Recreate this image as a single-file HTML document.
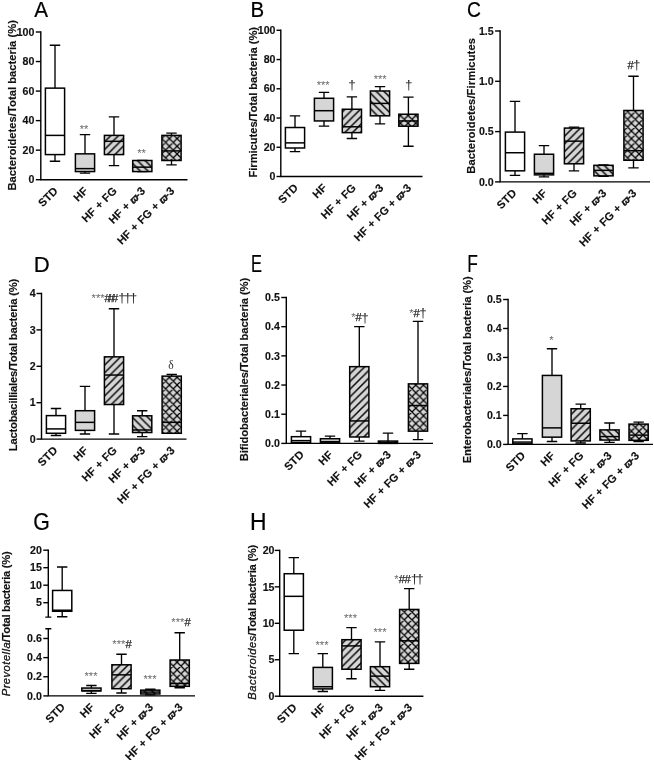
<!DOCTYPE html>
<html lang="en"><head><meta charset="utf-8"><title>Figure</title>
<style>html,body{margin:0;padding:0;background:#fff}svg{display:block}text{font-family:"Liberation Sans","DejaVu Sans",sans-serif}</style></head><body>
<svg width="654" height="760" viewBox="0 0 654 760">
<defs><pattern id="hA" patternUnits="userSpaceOnUse" width="7.7" height="7.7"><path d="M-1 1L1 -1M-1 8.7L8.7 -1M6.7 8.7L8.7 6.7" stroke="#000" stroke-width="1.45"/></pattern><pattern id="hB" patternUnits="userSpaceOnUse" width="7.7" height="7.7"><path d="M-1 -1L8.7 8.7M-1 6.7L1 8.7M6.7 -1L8.7 1" stroke="#000" stroke-width="1.45"/></pattern><pattern id="hX" patternUnits="userSpaceOnUse" width="7.7" height="7.7"><path d="M-1 -1L8.7 8.7M-1 6.7L1 8.7M6.7 -1L8.7 1M-1 1L1 -1M-1 8.7L8.7 -1M6.7 8.7L8.7 6.7" stroke="#000" stroke-width="1.25"/></pattern><filter id="soft" x="0" y="0" width="100%" height="100%" filterUnits="userSpaceOnUse" color-interpolation-filters="sRGB"><feGaussianBlur stdDeviation="0.3"/></filter></defs>
<g filter="url(#soft)">
<rect width="654" height="760" fill="#fff"/>
<text transform="translate(34.21 17.2) scale(0.931 1)" font-size="22.2" fill="#000" stroke="#000" stroke-width="0.2">A</text>
<path d="M40.8 31.3V179.7H187.5" stroke="#000" stroke-width="1.4" fill="none"/>
<path d="M35.8 179.7H40.8" stroke="#000" stroke-width="1.4"/>
<text transform="translate(34.4 183.4) scale(0.95 1)" font-size="11.2" text-anchor="end" font-weight="bold" fill="#111" stroke="#111" stroke-width="0.15">0</text>
<path d="M35.8 150.16H40.8" stroke="#000" stroke-width="1.4"/>
<text transform="translate(34.4 153.86) scale(0.95 1)" font-size="11.2" text-anchor="end" font-weight="bold" fill="#111" stroke="#111" stroke-width="0.15">20</text>
<path d="M35.8 120.62H40.8" stroke="#000" stroke-width="1.4"/>
<text transform="translate(34.4 124.32) scale(0.95 1)" font-size="11.2" text-anchor="end" font-weight="bold" fill="#111" stroke="#111" stroke-width="0.15">40</text>
<path d="M35.8 91.08H40.8" stroke="#000" stroke-width="1.4"/>
<text transform="translate(34.4 94.78) scale(0.95 1)" font-size="11.2" text-anchor="end" font-weight="bold" fill="#111" stroke="#111" stroke-width="0.15">60</text>
<path d="M35.8 61.54H40.8" stroke="#000" stroke-width="1.4"/>
<text transform="translate(34.4 65.24) scale(0.95 1)" font-size="11.2" text-anchor="end" font-weight="bold" fill="#111" stroke="#111" stroke-width="0.15">80</text>
<path d="M35.8 32H40.8" stroke="#000" stroke-width="1.4"/>
<text transform="translate(34.4 35.7) scale(0.95 1)" font-size="11.2" text-anchor="end" font-weight="bold" fill="#111" stroke="#111" stroke-width="0.15">100</text>
<path d="M55 45.29V88.13M55 154.59V161.24M49.8 45.29H60.2M49.8 161.24H60.2" stroke="#000" stroke-width="1.35" fill="none"/>
<rect x="45.4" y="88.13" width="19.2" height="66.46" fill="#ffffff" stroke="#000" stroke-width="1.5"/>
<path d="M45.4 135.39H64.6" stroke="#000" stroke-width="1.5"/>
<path d="M85 134.65V153.85M85 171.58V173.05M79.8 134.65H90.2M79.8 173.05H90.2" stroke="#000" stroke-width="1.35" fill="none"/>
<rect x="75.4" y="153.85" width="19.2" height="17.72" fill="#d6d6d6" stroke="#000" stroke-width="1.5"/>
<path d="M75.4 168.62H94.6" stroke="#000" stroke-width="1.5"/>
<path d="M114 116.93V135.39M114 154.59V165.67M108.8 116.93H119.2M108.8 165.67H119.2" stroke="#000" stroke-width="1.35" fill="none"/>
<rect x="104.4" y="135.39" width="19.2" height="19.2" fill="#d6d6d6"/>
<rect x="104.4" y="135.39" width="19.2" height="19.2" fill="url(#hA)" stroke="#000" stroke-width="1.5"/>
<path d="M104.4 141.3H123.6" stroke="#000" stroke-width="1.5"/>
<path d="M142.3 160.5V160.5M142.3 171.58V171.58M137.1 160.5H147.5M137.1 171.58H147.5" stroke="#000" stroke-width="1.35" fill="none"/>
<rect x="132.7" y="160.5" width="19.2" height="11.08" fill="#d6d6d6"/>
<rect x="132.7" y="160.5" width="19.2" height="11.08" fill="url(#hB)" stroke="#000" stroke-width="1.5"/>
<path d="M132.7 167.15H151.9" stroke="#000" stroke-width="1.5"/>
<path d="M171.5 133.17V135.39M171.5 160.5V164.93M166.3 133.17H176.7M166.3 164.93H176.7" stroke="#000" stroke-width="1.35" fill="none"/>
<rect x="161.9" y="135.39" width="19.2" height="25.11" fill="#d6d6d6"/>
<rect x="161.9" y="135.39" width="19.2" height="25.11" fill="url(#hX)" stroke="#000" stroke-width="1.5"/>
<path d="M161.9 150.9H181.1" stroke="#000" stroke-width="1.5"/>
<text x="58.6" y="191.7" font-size="11.2" text-anchor="end" font-weight="bold" fill="#111" transform="rotate(-45 58.6 191.7)" word-spacing="0.5" stroke="#111" stroke-width="0.12">STD</text>
<text x="88.6" y="191.7" font-size="11.2" text-anchor="end" font-weight="bold" fill="#111" transform="rotate(-45 88.6 191.7)" word-spacing="0.5" stroke="#111" stroke-width="0.12">HF</text>
<text x="117.6" y="191.7" font-size="11.2" text-anchor="end" font-weight="bold" fill="#111" transform="rotate(-45 117.6 191.7)" word-spacing="0.5" stroke="#111" stroke-width="0.12">HF + FG</text>
<text x="145.9" y="191.7" font-size="11.2" text-anchor="end" font-weight="bold" fill="#111" transform="rotate(-45 145.9 191.7)" word-spacing="0.5" stroke="#111" stroke-width="0.12">HF + <tspan font-style="italic" font-size="10" stroke-width="0.4">ϖ</tspan><tspan dx="-0.7">-3</tspan></text>
<text x="175.1" y="191.7" font-size="11.2" text-anchor="end" font-weight="bold" fill="#111" transform="rotate(-45 175.1 191.7)" word-spacing="0.5" stroke="#111" stroke-width="0.12">HF + FG + <tspan font-style="italic" font-size="10" stroke-width="0.4">ϖ</tspan><tspan dx="-0.7">-3</tspan></text>
<text x="16.4" y="190.55" font-size="11.2" fill="#111" stroke="#111" stroke-width="0.15" font-weight="bold" textLength="170.5" lengthAdjust="spacing" transform="rotate(-90 16.4 190.55)">Bacteroidetes/Total bacteria (%)</text>
<text x="84" y="133" font-size="11.2" text-anchor="middle" font-weight="normal" fill="#2a2a2a"><tspan fill="#6a6a6a">**</tspan></text>
<text x="141.5" y="156.5" font-size="11.2" text-anchor="middle" font-weight="normal" fill="#2a2a2a"><tspan fill="#6a6a6a">**</tspan></text>
<text transform="translate(250.56 17.4) scale(0.922 1)" font-size="22.2" fill="#000" stroke="#000" stroke-width="0.2">B</text>
<path d="M280.8 29.6V176.5H422.5" stroke="#000" stroke-width="1.4" fill="none"/>
<path d="M276.5 176.5H280.8" stroke="#000" stroke-width="1.4"/>
<text transform="translate(275.5 180.2) scale(0.95 1)" font-size="11.2" text-anchor="end" font-weight="bold" fill="#111" stroke="#111" stroke-width="0.15">0</text>
<path d="M276.5 147.26H280.8" stroke="#000" stroke-width="1.4"/>
<text transform="translate(275.5 150.96) scale(0.95 1)" font-size="11.2" text-anchor="end" font-weight="bold" fill="#111" stroke="#111" stroke-width="0.15">20</text>
<path d="M276.5 118.02H280.8" stroke="#000" stroke-width="1.4"/>
<text transform="translate(275.5 121.72) scale(0.95 1)" font-size="11.2" text-anchor="end" font-weight="bold" fill="#111" stroke="#111" stroke-width="0.15">40</text>
<path d="M276.5 88.78H280.8" stroke="#000" stroke-width="1.4"/>
<text transform="translate(275.5 92.48) scale(0.95 1)" font-size="11.2" text-anchor="end" font-weight="bold" fill="#111" stroke="#111" stroke-width="0.15">60</text>
<path d="M276.5 59.54H280.8" stroke="#000" stroke-width="1.4"/>
<text transform="translate(275.5 63.24) scale(0.95 1)" font-size="11.2" text-anchor="end" font-weight="bold" fill="#111" stroke="#111" stroke-width="0.15">80</text>
<path d="M276.5 30.3H280.8" stroke="#000" stroke-width="1.4"/>
<text transform="translate(275.5 34) scale(0.95 1)" font-size="11.2" text-anchor="end" font-weight="bold" fill="#111" stroke="#111" stroke-width="0.15">100</text>
<path d="M295 115.83V127.52M295 147.99V151.65M289.8 115.83H300.2M289.8 151.65H300.2" stroke="#000" stroke-width="1.35" fill="none"/>
<rect x="285.4" y="127.52" width="19.2" height="20.47" fill="#ffffff" stroke="#000" stroke-width="1.5"/>
<path d="M285.4 142.87H304.6" stroke="#000" stroke-width="1.5"/>
<path d="M324 92.44V98.28M324 120.94V126.06M318.8 92.44H329.2M318.8 126.06H329.2" stroke="#000" stroke-width="1.35" fill="none"/>
<rect x="314.4" y="98.28" width="19.2" height="22.66" fill="#d6d6d6" stroke="#000" stroke-width="1.5"/>
<path d="M314.4 110.71H333.6" stroke="#000" stroke-width="1.5"/>
<path d="M351.9 96.82V109.25M351.9 132.64V138.49M346.7 96.82H357.1M346.7 138.49H357.1" stroke="#000" stroke-width="1.35" fill="none"/>
<rect x="342.3" y="109.25" width="19.2" height="23.39" fill="#d6d6d6"/>
<rect x="342.3" y="109.25" width="19.2" height="23.39" fill="url(#hA)" stroke="#000" stroke-width="1.5"/>
<path d="M342.3 126.79H361.5" stroke="#000" stroke-width="1.5"/>
<path d="M380 86.59V90.97M380 115.83V123.87M374.8 86.59H385.2M374.8 123.87H385.2" stroke="#000" stroke-width="1.35" fill="none"/>
<rect x="370.4" y="90.97" width="19.2" height="24.85" fill="#d6d6d6"/>
<rect x="370.4" y="90.97" width="19.2" height="24.85" fill="url(#hB)" stroke="#000" stroke-width="1.5"/>
<path d="M370.4 103.4H389.6" stroke="#000" stroke-width="1.5"/>
<path d="M408.4 97.11V114.22M408.4 126.21V146.24M403.2 97.11H413.6M403.2 146.24H413.6" stroke="#000" stroke-width="1.35" fill="none"/>
<rect x="398.8" y="114.22" width="19.2" height="11.99" fill="#d6d6d6"/>
<rect x="398.8" y="114.22" width="19.2" height="11.99" fill="url(#hX)" stroke="#000" stroke-width="1.5"/>
<path d="M398.8 120.94H418" stroke="#000" stroke-width="1.5"/>
<text x="298.6" y="188.5" font-size="11.2" text-anchor="end" font-weight="bold" fill="#111" transform="rotate(-45 298.6 188.5)" word-spacing="0.5" stroke="#111" stroke-width="0.12">STD</text>
<text x="327.6" y="188.5" font-size="11.2" text-anchor="end" font-weight="bold" fill="#111" transform="rotate(-45 327.6 188.5)" word-spacing="0.5" stroke="#111" stroke-width="0.12">HF</text>
<text x="356.7" y="188.5" font-size="11.2" text-anchor="end" font-weight="bold" fill="#111" transform="rotate(-45 356.7 188.5)" word-spacing="0.5" stroke="#111" stroke-width="0.12">HF + FG</text>
<text x="384.2" y="188.5" font-size="11.2" text-anchor="end" font-weight="bold" fill="#111" transform="rotate(-45 384.2 188.5)" word-spacing="0.5" stroke="#111" stroke-width="0.12">HF + <tspan font-style="italic" font-size="10" stroke-width="0.4">ϖ</tspan><tspan dx="-0.7">-3</tspan></text>
<text x="412" y="188.5" font-size="11.2" text-anchor="end" font-weight="bold" fill="#111" transform="rotate(-45 412 188.5)" word-spacing="0.5" stroke="#111" stroke-width="0.12">HF + FG + <tspan font-style="italic" font-size="10" stroke-width="0.4">ϖ</tspan><tspan dx="-0.7">-3</tspan></text>
<text x="257.5" y="177.45" font-size="11.2" fill="#111" stroke="#111" stroke-width="0.15" font-weight="bold" textLength="150.5" lengthAdjust="spacing" transform="rotate(-90 257.5 177.45)">Firmicutes/Total bacteria (%)</text>
<text x="323.2" y="88.6" font-size="11.2" text-anchor="middle" font-weight="normal" fill="#2a2a2a"><tspan fill="#6a6a6a">***</tspan></text>
<text x="352.6" y="88.4" font-size="11.2" text-anchor="middle" font-weight="normal" fill="#2a2a2a"><tspan font-size="13.5" dy="0.3" dx="-0.5">†</tspan></text>
<text x="380.2" y="83.1" font-size="11.2" text-anchor="middle" font-weight="normal" fill="#2a2a2a"><tspan fill="#6a6a6a">***</tspan></text>
<text x="409.2" y="88.4" font-size="11.2" text-anchor="middle" font-weight="normal" fill="#2a2a2a"><tspan font-size="13.5" dy="0.3" dx="-0.5">†</tspan></text>
<text transform="translate(466.89 17.3) scale(0.869 1)" font-size="22.2" fill="#000" stroke="#000" stroke-width="0.2">C</text>
<path d="M500.1 30.3V181.9H650" stroke="#000" stroke-width="1.4" fill="none"/>
<path d="M495.1 181.9H500.1" stroke="#000" stroke-width="1.4"/>
<text transform="translate(493.7 185.6) scale(0.95 1)" font-size="11.2" text-anchor="end" font-weight="bold" fill="#111" stroke="#111" stroke-width="0.15">0.0</text>
<path d="M495.1 131.6H500.1" stroke="#000" stroke-width="1.4"/>
<text transform="translate(493.7 135.3) scale(0.95 1)" font-size="11.2" text-anchor="end" font-weight="bold" fill="#111" stroke="#111" stroke-width="0.15">0.5</text>
<path d="M495.1 81.3H500.1" stroke="#000" stroke-width="1.4"/>
<text transform="translate(493.7 85) scale(0.95 1)" font-size="11.2" text-anchor="end" font-weight="bold" fill="#111" stroke="#111" stroke-width="0.15">1.0</text>
<path d="M495.1 31H500.1" stroke="#000" stroke-width="1.4"/>
<text transform="translate(493.7 34.7) scale(0.95 1)" font-size="11.2" text-anchor="end" font-weight="bold" fill="#111" stroke="#111" stroke-width="0.15">1.5</text>
<path d="M515 101.42V132.1M515 170.83V175.36M509.8 101.42H520.2M509.8 175.36H520.2" stroke="#000" stroke-width="1.35" fill="none"/>
<rect x="505.4" y="132.1" width="19.2" height="38.73" fill="#ffffff" stroke="#000" stroke-width="1.5"/>
<path d="M505.4 152.73H524.6" stroke="#000" stroke-width="1.5"/>
<path d="M544 145.68V154.24M544 174.86V176.87M538.8 145.68H549.2M538.8 176.87H549.2" stroke="#000" stroke-width="1.35" fill="none"/>
<rect x="534.4" y="154.24" width="19.2" height="20.62" fill="#d6d6d6" stroke="#000" stroke-width="1.5"/>
<path d="M534.4 173.35H553.6" stroke="#000" stroke-width="1.5"/>
<path d="M574 127.07V128.08M574 163.79V170.83M568.8 127.07H579.2M568.8 170.83H579.2" stroke="#000" stroke-width="1.35" fill="none"/>
<rect x="564.4" y="128.08" width="19.2" height="35.71" fill="#d6d6d6"/>
<rect x="564.4" y="128.08" width="19.2" height="35.71" fill="url(#hA)" stroke="#000" stroke-width="1.5"/>
<path d="M564.4 141.16H583.6" stroke="#000" stroke-width="1.5"/>
<path d="M603.5 164.8V165.3M603.5 175.86V176.37M598.3 164.8H608.7M598.3 176.37H608.7" stroke="#000" stroke-width="1.35" fill="none"/>
<rect x="593.9" y="165.3" width="19.2" height="10.56" fill="#d6d6d6"/>
<rect x="593.9" y="165.3" width="19.2" height="10.56" fill="url(#hB)" stroke="#000" stroke-width="1.5"/>
<path d="M593.9 170.33H613.1" stroke="#000" stroke-width="1.5"/>
<path d="M633.5 76.27V110.47M633.5 160.27V167.82M628.3 76.27H638.7M628.3 167.82H638.7" stroke="#000" stroke-width="1.35" fill="none"/>
<rect x="623.9" y="110.47" width="19.2" height="49.8" fill="#d6d6d6"/>
<rect x="623.9" y="110.47" width="19.2" height="49.8" fill="url(#hX)" stroke="#000" stroke-width="1.5"/>
<path d="M623.9 150.71H643.1" stroke="#000" stroke-width="1.5"/>
<text x="517.1" y="193.9" font-size="11.2" text-anchor="end" font-weight="bold" fill="#111" transform="rotate(-45 517.1 193.9)" word-spacing="0.5" stroke="#111" stroke-width="0.12">STD</text>
<text x="547.6" y="193.9" font-size="11.2" text-anchor="end" font-weight="bold" fill="#111" transform="rotate(-45 547.6 193.9)" word-spacing="0.5" stroke="#111" stroke-width="0.12">HF</text>
<text x="577.6" y="193.9" font-size="11.2" text-anchor="end" font-weight="bold" fill="#111" transform="rotate(-45 577.6 193.9)" word-spacing="0.5" stroke="#111" stroke-width="0.12">HF + FG</text>
<text x="607.1" y="193.9" font-size="11.2" text-anchor="end" font-weight="bold" fill="#111" transform="rotate(-45 607.1 193.9)" word-spacing="0.5" stroke="#111" stroke-width="0.12">HF + <tspan font-style="italic" font-size="10" stroke-width="0.4">ϖ</tspan><tspan dx="-0.7">-3</tspan></text>
<text x="637.1" y="193.9" font-size="11.2" text-anchor="end" font-weight="bold" fill="#111" transform="rotate(-45 637.1 193.9)" word-spacing="0.5" stroke="#111" stroke-width="0.12">HF + FG + <tspan font-style="italic" font-size="10" stroke-width="0.4">ϖ</tspan><tspan dx="-0.7">-3</tspan></text>
<text x="475.5" y="173.78" font-size="11.2" fill="#111" stroke="#111" stroke-width="0.15" font-weight="bold" textLength="135.75" lengthAdjust="spacing" transform="rotate(-90 475.5 173.78)">Bacteroidetes/Firmicutes</text>
<text x="634" y="69" font-size="11.2" text-anchor="middle" font-weight="normal" fill="#2a2a2a"><tspan stroke="#2a2a2a" stroke-width="0.25">#</tspan><tspan font-size="13.5" dy="0.3" dx="-0.5">†</tspan></text>
<text transform="translate(33.72 272) scale(0.985 1)" font-size="22.5" fill="#000" stroke="#000" stroke-width="0.2">D</text>
<path d="M41.5 292.8V439.1H186.5" stroke="#000" stroke-width="1.4" fill="none"/>
<path d="M36.5 439.1H41.5" stroke="#000" stroke-width="1.4"/>
<text transform="translate(35.7 442.8) scale(0.95 1)" font-size="11.2" text-anchor="end" font-weight="bold" fill="#111" stroke="#111" stroke-width="0.15">0</text>
<path d="M36.5 402.7H41.5" stroke="#000" stroke-width="1.4"/>
<text transform="translate(35.7 406.4) scale(0.95 1)" font-size="11.2" text-anchor="end" font-weight="bold" fill="#111" stroke="#111" stroke-width="0.15">1</text>
<path d="M36.5 366.3H41.5" stroke="#000" stroke-width="1.4"/>
<text transform="translate(35.7 370) scale(0.95 1)" font-size="11.2" text-anchor="end" font-weight="bold" fill="#111" stroke="#111" stroke-width="0.15">2</text>
<path d="M36.5 329.9H41.5" stroke="#000" stroke-width="1.4"/>
<text transform="translate(35.7 333.6) scale(0.95 1)" font-size="11.2" text-anchor="end" font-weight="bold" fill="#111" stroke="#111" stroke-width="0.15">3</text>
<path d="M36.5 293.5H41.5" stroke="#000" stroke-width="1.4"/>
<text transform="translate(35.7 297.2) scale(0.95 1)" font-size="11.2" text-anchor="end" font-weight="bold" fill="#111" stroke="#111" stroke-width="0.15">4</text>
<path d="M56 408.52V415.62M56 433.28V435.46M50.8 408.52H61.2M50.8 435.46H61.2" stroke="#000" stroke-width="1.35" fill="none"/>
<rect x="46.4" y="415.62" width="19.2" height="17.65" fill="#ffffff" stroke="#000" stroke-width="1.5"/>
<path d="M46.4 428.91H65.6" stroke="#000" stroke-width="1.5"/>
<path d="M85 386.32V410.71M85 430.36V434M79.8 386.32H90.2M79.8 434H90.2" stroke="#000" stroke-width="1.35" fill="none"/>
<rect x="75.4" y="410.71" width="19.2" height="19.66" fill="#d6d6d6" stroke="#000" stroke-width="1.5"/>
<path d="M75.4 422.36H94.6" stroke="#000" stroke-width="1.5"/>
<path d="M114 308.79V356.84M114 404.52V434M108.8 308.79H119.2M108.8 434H119.2" stroke="#000" stroke-width="1.35" fill="none"/>
<rect x="104.4" y="356.84" width="19.2" height="47.68" fill="#d6d6d6"/>
<rect x="104.4" y="356.84" width="19.2" height="47.68" fill="url(#hA)" stroke="#000" stroke-width="1.5"/>
<path d="M104.4 375.04H123.6" stroke="#000" stroke-width="1.5"/>
<path d="M142.2 410.71V415.8M142.2 432.55V436.55M137 410.71H147.4M137 436.55H147.4" stroke="#000" stroke-width="1.35" fill="none"/>
<rect x="132.6" y="415.8" width="19.2" height="16.74" fill="#d6d6d6"/>
<rect x="132.6" y="415.8" width="19.2" height="16.74" fill="url(#hB)" stroke="#000" stroke-width="1.5"/>
<path d="M132.6 430H151.8" stroke="#000" stroke-width="1.5"/>
<path d="M171.7 374.31V376.13M171.7 433.28V433.28M166.5 374.31H176.9M166.5 433.28H176.9" stroke="#000" stroke-width="1.35" fill="none"/>
<rect x="162.1" y="376.13" width="19.2" height="57.15" fill="#d6d6d6"/>
<rect x="162.1" y="376.13" width="19.2" height="57.15" fill="url(#hX)" stroke="#000" stroke-width="1.5"/>
<path d="M162.1 422.36H181.3" stroke="#000" stroke-width="1.5"/>
<text x="58.1" y="451.1" font-size="11.2" text-anchor="end" font-weight="bold" fill="#111" transform="rotate(-45 58.1 451.1)" word-spacing="0.5" stroke="#111" stroke-width="0.12">STD</text>
<text x="88.6" y="451.1" font-size="11.2" text-anchor="end" font-weight="bold" fill="#111" transform="rotate(-45 88.6 451.1)" word-spacing="0.5" stroke="#111" stroke-width="0.12">HF</text>
<text x="117.6" y="451.1" font-size="11.2" text-anchor="end" font-weight="bold" fill="#111" transform="rotate(-45 117.6 451.1)" word-spacing="0.5" stroke="#111" stroke-width="0.12">HF + FG</text>
<text x="145.8" y="451.1" font-size="11.2" text-anchor="end" font-weight="bold" fill="#111" transform="rotate(-45 145.8 451.1)" word-spacing="0.5" stroke="#111" stroke-width="0.12">HF + <tspan font-style="italic" font-size="10" stroke-width="0.4">ϖ</tspan><tspan dx="-0.7">-3</tspan></text>
<text x="175.3" y="451.1" font-size="11.2" text-anchor="end" font-weight="bold" fill="#111" transform="rotate(-45 175.3 451.1)" word-spacing="0.5" stroke="#111" stroke-width="0.12">HF + FG + <tspan font-style="italic" font-size="10" stroke-width="0.4">ϖ</tspan><tspan dx="-0.7">-3</tspan></text>
<text x="17" y="451.25" font-size="11.2" fill="#111" stroke="#111" stroke-width="0.15" font-weight="bold" textLength="172.5" lengthAdjust="spacing" transform="rotate(-90 17 451.25)">Lactobacilliales/Total bacteria (%)</text>
<text x="114.4" y="301.8" font-size="11.2" text-anchor="middle" font-weight="normal" fill="#2a2a2a"><tspan fill="#6a6a6a">***</tspan><tspan stroke="#2a2a2a" stroke-width="0.25" letter-spacing="-2.5">##</tspan><tspan stroke="#2a2a2a" stroke-width="0.25">#</tspan><tspan font-size="13.5" dy="0.3" letter-spacing="-1.8">††</tspan><tspan font-size="13.5">†</tspan></text>
<text x="171" y="368.5" font-size="11.2" text-anchor="middle" font-weight="normal" fill="#2a2a2a"><tspan font-size="11.5" font-family="Liberation Serif, DejaVu Serif, serif">δ</tspan></text>
<text transform="translate(251.09 272.2) scale(0.703 1)" font-size="23.4" fill="#000" stroke="#000" stroke-width="0.2">E</text>
<path d="M286.3 296.8V443.4H433" stroke="#000" stroke-width="1.4" fill="none"/>
<path d="M281.3 443.4H286.3" stroke="#000" stroke-width="1.4"/>
<text transform="translate(279.9 447.1) scale(0.95 1)" font-size="11.2" text-anchor="end" font-weight="bold" fill="#111" stroke="#111" stroke-width="0.15">0.0</text>
<path d="M281.3 414.22H286.3" stroke="#000" stroke-width="1.4"/>
<text transform="translate(279.9 417.92) scale(0.95 1)" font-size="11.2" text-anchor="end" font-weight="bold" fill="#111" stroke="#111" stroke-width="0.15">0.1</text>
<path d="M281.3 385.04H286.3" stroke="#000" stroke-width="1.4"/>
<text transform="translate(279.9 388.74) scale(0.95 1)" font-size="11.2" text-anchor="end" font-weight="bold" fill="#111" stroke="#111" stroke-width="0.15">0.2</text>
<path d="M281.3 355.86H286.3" stroke="#000" stroke-width="1.4"/>
<text transform="translate(279.9 359.56) scale(0.95 1)" font-size="11.2" text-anchor="end" font-weight="bold" fill="#111" stroke="#111" stroke-width="0.15">0.3</text>
<path d="M281.3 326.68H286.3" stroke="#000" stroke-width="1.4"/>
<text transform="translate(279.9 330.38) scale(0.95 1)" font-size="11.2" text-anchor="end" font-weight="bold" fill="#111" stroke="#111" stroke-width="0.15">0.4</text>
<path d="M281.3 297.5H286.3" stroke="#000" stroke-width="1.4"/>
<text transform="translate(279.9 301.2) scale(0.95 1)" font-size="11.2" text-anchor="end" font-weight="bold" fill="#111" stroke="#111" stroke-width="0.15">0.5</text>
<path d="M301 431.14V436.69M301 442.52V443.4M295.8 431.14H306.2M295.8 443.4H306.2" stroke="#000" stroke-width="1.35" fill="none"/>
<rect x="291.4" y="436.69" width="19.2" height="5.84" fill="#ffffff" stroke="#000" stroke-width="1.5"/>
<path d="M291.4 440.63H310.6" stroke="#000" stroke-width="1.5"/>
<path d="M330 436.1V438.73M330 442.82V443.4M324.8 436.1H335.2M324.8 443.4H335.2" stroke="#000" stroke-width="1.35" fill="none"/>
<rect x="320.4" y="438.73" width="19.2" height="4.09" fill="#d6d6d6" stroke="#000" stroke-width="1.5"/>
<path d="M320.4 441.65H339.6" stroke="#000" stroke-width="1.5"/>
<path d="M359.3 326.68V366.66M359.3 436.98V441.07M354.1 326.68H364.5M354.1 441.07H364.5" stroke="#000" stroke-width="1.35" fill="none"/>
<rect x="349.7" y="366.66" width="19.2" height="70.32" fill="#d6d6d6"/>
<rect x="349.7" y="366.66" width="19.2" height="70.32" fill="url(#hA)" stroke="#000" stroke-width="1.5"/>
<path d="M349.7 420.93H368.9" stroke="#000" stroke-width="1.5"/>
<path d="M388 433.19V441.07M388 443.4V443.4M382.8 433.19H393.2M382.8 443.4H393.2" stroke="#000" stroke-width="1.35" fill="none"/>
<rect x="378.4" y="441.07" width="19.2" height="2.33" fill="#d6d6d6"/>
<rect x="378.4" y="441.07" width="19.2" height="2.33" fill="url(#hB)" stroke="#000" stroke-width="1.5"/>
<path d="M378.4 442.52H397.6" stroke="#000" stroke-width="1.5"/>
<path d="M418 321.43V383.87M418 431.14V439.61M412.8 321.43H423.2M412.8 439.61H423.2" stroke="#000" stroke-width="1.35" fill="none"/>
<rect x="408.4" y="383.87" width="19.2" height="47.27" fill="#d6d6d6"/>
<rect x="408.4" y="383.87" width="19.2" height="47.27" fill="url(#hX)" stroke="#000" stroke-width="1.5"/>
<path d="M408.4 405.47H427.6" stroke="#000" stroke-width="1.5"/>
<text x="304.6" y="455.4" font-size="11.2" text-anchor="end" font-weight="bold" fill="#111" transform="rotate(-45 304.6 455.4)" word-spacing="0.5" stroke="#111" stroke-width="0.12">STD</text>
<text x="333.6" y="455.4" font-size="11.2" text-anchor="end" font-weight="bold" fill="#111" transform="rotate(-45 333.6 455.4)" word-spacing="0.5" stroke="#111" stroke-width="0.12">HF</text>
<text x="362.9" y="455.4" font-size="11.2" text-anchor="end" font-weight="bold" fill="#111" transform="rotate(-45 362.9 455.4)" word-spacing="0.5" stroke="#111" stroke-width="0.12">HF + FG</text>
<text x="391.6" y="455.4" font-size="11.2" text-anchor="end" font-weight="bold" fill="#111" transform="rotate(-45 391.6 455.4)" word-spacing="0.5" stroke="#111" stroke-width="0.12">HF + <tspan font-style="italic" font-size="10" stroke-width="0.4">ϖ</tspan><tspan dx="-0.7">-3</tspan></text>
<text x="421.6" y="455.4" font-size="11.2" text-anchor="end" font-weight="bold" fill="#111" transform="rotate(-45 421.6 455.4)" word-spacing="0.5" stroke="#111" stroke-width="0.12">HF + FG + <tspan font-style="italic" font-size="10" stroke-width="0.4">ϖ</tspan><tspan dx="-0.7">-3</tspan></text>
<text x="247.5" y="461.25" font-size="11.2" fill="#111" stroke="#111" stroke-width="0.15" font-weight="bold" textLength="183.5" lengthAdjust="spacing" transform="rotate(-90 247.5 461.25)">Bifidobacteriales/Total bacteria (%)</text>
<text x="360" y="321.4" font-size="11.2" text-anchor="middle" font-weight="normal" fill="#2a2a2a"><tspan fill="#6a6a6a">*</tspan><tspan stroke="#2a2a2a" stroke-width="0.25">#</tspan><tspan font-size="13.5" dy="0.3" dx="-0.5">†</tspan></text>
<text x="418" y="317" font-size="11.2" text-anchor="middle" font-weight="normal" fill="#2a2a2a"><tspan fill="#6a6a6a">*</tspan><tspan stroke="#2a2a2a" stroke-width="0.25">#</tspan><tspan font-size="13.5" dy="0.3" dx="-0.5">†</tspan></text>
<text transform="translate(467.21 272.2) scale(0.743 1)" font-size="23.4" fill="#000" stroke="#000" stroke-width="0.2">F</text>
<path d="M508.1 298.8V444.4H653" stroke="#000" stroke-width="1.4" fill="none"/>
<path d="M503.1 444.4H508.1" stroke="#000" stroke-width="1.4"/>
<text transform="translate(501.7 448.1) scale(0.95 1)" font-size="11.2" text-anchor="end" font-weight="bold" fill="#111" stroke="#111" stroke-width="0.15">0.0</text>
<path d="M503.1 415.42H508.1" stroke="#000" stroke-width="1.4"/>
<text transform="translate(501.7 419.12) scale(0.95 1)" font-size="11.2" text-anchor="end" font-weight="bold" fill="#111" stroke="#111" stroke-width="0.15">0.1</text>
<path d="M503.1 386.44H508.1" stroke="#000" stroke-width="1.4"/>
<text transform="translate(501.7 390.14) scale(0.95 1)" font-size="11.2" text-anchor="end" font-weight="bold" fill="#111" stroke="#111" stroke-width="0.15">0.2</text>
<path d="M503.1 357.46H508.1" stroke="#000" stroke-width="1.4"/>
<text transform="translate(501.7 361.16) scale(0.95 1)" font-size="11.2" text-anchor="end" font-weight="bold" fill="#111" stroke="#111" stroke-width="0.15">0.3</text>
<path d="M503.1 328.48H508.1" stroke="#000" stroke-width="1.4"/>
<text transform="translate(501.7 332.18) scale(0.95 1)" font-size="11.2" text-anchor="end" font-weight="bold" fill="#111" stroke="#111" stroke-width="0.15">0.4</text>
<path d="M503.1 299.5H508.1" stroke="#000" stroke-width="1.4"/>
<text transform="translate(501.7 303.2) scale(0.95 1)" font-size="11.2" text-anchor="end" font-weight="bold" fill="#111" stroke="#111" stroke-width="0.15">0.5</text>
<path d="M522.4 433.68V438.89M522.4 443.82V444.4M517.2 433.68H527.6M517.2 444.4H527.6" stroke="#000" stroke-width="1.35" fill="none"/>
<rect x="512.8" y="438.89" width="19.2" height="4.93" fill="#ffffff" stroke="#000" stroke-width="1.5"/>
<path d="M512.8 442.08H532" stroke="#000" stroke-width="1.5"/>
<path d="M552 348.77V375.43M552 437.15V441.5M546.8 348.77H557.2M546.8 441.5H557.2" stroke="#000" stroke-width="1.35" fill="none"/>
<rect x="542.4" y="375.43" width="19.2" height="61.73" fill="#d6d6d6" stroke="#000" stroke-width="1.5"/>
<path d="M542.4 427.88H561.6" stroke="#000" stroke-width="1.5"/>
<path d="M580.7 404.12V408.75M580.7 440.92V442.95M575.5 404.12H585.9M575.5 442.95H585.9" stroke="#000" stroke-width="1.35" fill="none"/>
<rect x="571.1" y="408.75" width="19.2" height="32.17" fill="#d6d6d6"/>
<rect x="571.1" y="408.75" width="19.2" height="32.17" fill="url(#hA)" stroke="#000" stroke-width="1.5"/>
<path d="M571.1 423.24H590.3" stroke="#000" stroke-width="1.5"/>
<path d="M609.5 422.95V429.91M609.5 440.05V442.37M604.3 422.95H614.7M604.3 442.37H614.7" stroke="#000" stroke-width="1.35" fill="none"/>
<rect x="599.9" y="429.91" width="19.2" height="10.14" fill="#d6d6d6"/>
<rect x="599.9" y="429.91" width="19.2" height="10.14" fill="url(#hB)" stroke="#000" stroke-width="1.5"/>
<path d="M599.9 436.58H619.1" stroke="#000" stroke-width="1.5"/>
<path d="M638.6 422.09V424.11M638.6 440.34V441.5M633.4 422.09H643.8M633.4 441.5H643.8" stroke="#000" stroke-width="1.35" fill="none"/>
<rect x="629" y="424.11" width="19.2" height="16.23" fill="#d6d6d6"/>
<rect x="629" y="424.11" width="19.2" height="16.23" fill="url(#hX)" stroke="#000" stroke-width="1.5"/>
<path d="M629 435.13H648.2" stroke="#000" stroke-width="1.5"/>
<text x="526" y="456.4" font-size="11.2" text-anchor="end" font-weight="bold" fill="#111" transform="rotate(-45 526 456.4)" word-spacing="0.5" stroke="#111" stroke-width="0.12">STD</text>
<text x="555.6" y="456.4" font-size="11.2" text-anchor="end" font-weight="bold" fill="#111" transform="rotate(-45 555.6 456.4)" word-spacing="0.5" stroke="#111" stroke-width="0.12">HF</text>
<text x="584.3" y="456.4" font-size="11.2" text-anchor="end" font-weight="bold" fill="#111" transform="rotate(-45 584.3 456.4)" word-spacing="0.5" stroke="#111" stroke-width="0.12">HF + FG</text>
<text x="612.5" y="456.4" font-size="11.2" text-anchor="end" font-weight="bold" fill="#111" transform="rotate(-45 612.5 456.4)" word-spacing="0.5" stroke="#111" stroke-width="0.12">HF + <tspan font-style="italic" font-size="10" stroke-width="0.4">ϖ</tspan><tspan dx="-0.7">-3</tspan></text>
<text x="639.9" y="456.4" font-size="11.2" text-anchor="end" font-weight="bold" fill="#111" transform="rotate(-45 639.9 456.4)" word-spacing="0.5" stroke="#111" stroke-width="0.12">HF + FG + <tspan font-style="italic" font-size="10" stroke-width="0.4">ϖ</tspan><tspan dx="-0.7">-3</tspan></text>
<text x="470.6" y="463.3" font-size="11.2" fill="#111" stroke="#111" stroke-width="0.15" font-weight="bold" textLength="187" lengthAdjust="spacing" transform="rotate(-90 470.6 463.3)">Enterobacteriales/Total bacteria (%)</text>
<text x="551.5" y="344.4" font-size="11.2" text-anchor="middle" font-weight="normal" fill="#2a2a2a"><tspan fill="#6a6a6a">*</tspan></text>
<text transform="translate(249.96 530.3) scale(0.975 1)" font-size="23.5" fill="#000" stroke="#000" stroke-width="0.2">H</text>
<path d="M279.7 549.7V696.2H423.4" stroke="#000" stroke-width="1.4" fill="none"/>
<path d="M274.7 696.2H279.7" stroke="#000" stroke-width="1.4"/>
<text transform="translate(274.5 699.9) scale(0.95 1)" font-size="11.2" text-anchor="end" font-weight="bold" fill="#111" stroke="#111" stroke-width="0.15">0</text>
<path d="M274.7 659.75H279.7" stroke="#000" stroke-width="1.4"/>
<text transform="translate(274.5 663.45) scale(0.95 1)" font-size="11.2" text-anchor="end" font-weight="bold" fill="#111" stroke="#111" stroke-width="0.15">5</text>
<path d="M274.7 623.3H279.7" stroke="#000" stroke-width="1.4"/>
<text transform="translate(274.5 627) scale(0.95 1)" font-size="11.2" text-anchor="end" font-weight="bold" fill="#111" stroke="#111" stroke-width="0.15">10</text>
<path d="M274.7 586.85H279.7" stroke="#000" stroke-width="1.4"/>
<text transform="translate(274.5 590.55) scale(0.95 1)" font-size="11.2" text-anchor="end" font-weight="bold" fill="#111" stroke="#111" stroke-width="0.15">15</text>
<path d="M274.7 550.4H279.7" stroke="#000" stroke-width="1.4"/>
<text transform="translate(274.5 554.1) scale(0.95 1)" font-size="11.2" text-anchor="end" font-weight="bold" fill="#111" stroke="#111" stroke-width="0.15">20</text>
<path d="M293.8 557.69V573.73M293.8 630.23V653.55M288.6 557.69H299M288.6 653.55H299" stroke="#000" stroke-width="1.35" fill="none"/>
<rect x="284.2" y="573.73" width="19.2" height="56.5" fill="#ffffff" stroke="#000" stroke-width="1.5"/>
<path d="M284.2 596.33H303.4" stroke="#000" stroke-width="1.5"/>
<path d="M322.8 653.55V667.4M322.8 688.91V691.46M317.6 653.55H328M317.6 691.46H328" stroke="#000" stroke-width="1.35" fill="none"/>
<rect x="313.2" y="667.4" width="19.2" height="21.51" fill="#d6d6d6" stroke="#000" stroke-width="1.5"/>
<path d="M313.2 686.72H332.4" stroke="#000" stroke-width="1.5"/>
<path d="M351.5 627.67V639.7M351.5 669.23V678.7M346.3 627.67H356.7M346.3 678.7H356.7" stroke="#000" stroke-width="1.35" fill="none"/>
<rect x="341.9" y="639.7" width="19.2" height="29.52" fill="#d6d6d6"/>
<rect x="341.9" y="639.7" width="19.2" height="29.52" fill="url(#hA)" stroke="#000" stroke-width="1.5"/>
<path d="M341.9 645.9H361.1" stroke="#000" stroke-width="1.5"/>
<path d="M380 641.89V666.68M380 686.72V690.37M374.8 641.89H385.2M374.8 690.37H385.2" stroke="#000" stroke-width="1.35" fill="none"/>
<rect x="370.4" y="666.68" width="19.2" height="20.05" fill="#d6d6d6"/>
<rect x="370.4" y="666.68" width="19.2" height="20.05" fill="url(#hB)" stroke="#000" stroke-width="1.5"/>
<path d="M370.4 676.15H389.6" stroke="#000" stroke-width="1.5"/>
<path d="M409.2 588.67V609.45M409.2 663.39V669.23M404 588.67H414.4M404 669.23H414.4" stroke="#000" stroke-width="1.35" fill="none"/>
<rect x="399.6" y="609.45" width="19.2" height="53.95" fill="#d6d6d6"/>
<rect x="399.6" y="609.45" width="19.2" height="53.95" fill="url(#hX)" stroke="#000" stroke-width="1.5"/>
<path d="M399.6 640.8H418.8" stroke="#000" stroke-width="1.5"/>
<text x="297.4" y="708.2" font-size="11.2" text-anchor="end" font-weight="bold" fill="#111" transform="rotate(-45 297.4 708.2)" word-spacing="0.5" stroke="#111" stroke-width="0.12">STD</text>
<text x="326.4" y="708.2" font-size="11.2" text-anchor="end" font-weight="bold" fill="#111" transform="rotate(-45 326.4 708.2)" word-spacing="0.5" stroke="#111" stroke-width="0.12">HF</text>
<text x="355.1" y="708.2" font-size="11.2" text-anchor="end" font-weight="bold" fill="#111" transform="rotate(-45 355.1 708.2)" word-spacing="0.5" stroke="#111" stroke-width="0.12">HF + FG</text>
<text x="383.6" y="708.2" font-size="11.2" text-anchor="end" font-weight="bold" fill="#111" transform="rotate(-45 383.6 708.2)" word-spacing="0.5" stroke="#111" stroke-width="0.12">HF + <tspan font-style="italic" font-size="10" stroke-width="0.4">ϖ</tspan><tspan dx="-0.7">-3</tspan></text>
<text x="412.8" y="708.2" font-size="11.2" text-anchor="end" font-weight="bold" fill="#111" transform="rotate(-45 412.8 708.2)" word-spacing="0.5" stroke="#111" stroke-width="0.12">HF + FG + <tspan font-style="italic" font-size="10" stroke-width="0.4">ϖ</tspan><tspan dx="-0.7">-3</tspan></text>
<text x="256.25" y="699.7" font-size="11.2" fill="#111" stroke="#111" stroke-width="0.3" font-style="italic" textLength="64" lengthAdjust="spacing" transform="rotate(-90 256.25 699.7)">Bacteroides</text>
<text x="256.25" y="635.7" font-size="11.2" fill="#111" stroke="#111" stroke-width="0.15" font-weight="bold" textLength="91" lengthAdjust="spacing" transform="rotate(-90 256.25 635.7)">/Total bacteria (%)</text>
<text x="322" y="648.5" font-size="11.2" text-anchor="middle" font-weight="normal" fill="#2a2a2a"><tspan fill="#6a6a6a">***</tspan></text>
<text x="350.5" y="622.2" font-size="11.2" text-anchor="middle" font-weight="normal" fill="#2a2a2a"><tspan fill="#6a6a6a">***</tspan></text>
<text x="380" y="636.2" font-size="11.2" text-anchor="middle" font-weight="normal" fill="#2a2a2a"><tspan fill="#6a6a6a">***</tspan></text>
<text x="409.1" y="582.5" font-size="11.2" text-anchor="middle" font-weight="normal" fill="#2a2a2a"><tspan fill="#6a6a6a">*</tspan><tspan stroke="#2a2a2a" stroke-width="0.25" letter-spacing="-0.5">#</tspan><tspan stroke="#2a2a2a" stroke-width="0.25">#</tspan><tspan font-size="13.5" dy="0.3" letter-spacing="-1.8">†</tspan><tspan font-size="13.5">†</tspan></text>
<text transform="translate(33.28 530.3) scale(0.915 1)" font-size="23.3" fill="#000" stroke="#000" stroke-width="0.2">G</text>
<path d="M48.3 549.6V617.1M45.3 617.1H51.3" stroke="#000" stroke-width="1.4" fill="none"/>
<path d="M43.3 602.7H48.3" stroke="#000" stroke-width="1.4"/>
<text transform="translate(41.9 606.4) scale(0.95 1)" font-size="11.2" text-anchor="end" font-weight="bold" fill="#111" stroke="#111" stroke-width="0.15">5</text>
<path d="M43.3 585.2H48.3" stroke="#000" stroke-width="1.4"/>
<text transform="translate(41.9 588.9) scale(0.95 1)" font-size="11.2" text-anchor="end" font-weight="bold" fill="#111" stroke="#111" stroke-width="0.15">10</text>
<path d="M43.3 567.7H48.3" stroke="#000" stroke-width="1.4"/>
<text transform="translate(41.9 571.4) scale(0.95 1)" font-size="11.2" text-anchor="end" font-weight="bold" fill="#111" stroke="#111" stroke-width="0.15">15</text>
<path d="M43.3 550.2H48.3" stroke="#000" stroke-width="1.4"/>
<text transform="translate(41.9 553.9) scale(0.95 1)" font-size="11.2" text-anchor="end" font-weight="bold" fill="#111" stroke="#111" stroke-width="0.15">20</text>
<path d="M45.3 628.7H51.3M48.3 628.7V695.9H195" stroke="#000" stroke-width="1.4" fill="none"/>
<path d="M43.3 695.9H48.3" stroke="#000" stroke-width="1.4"/>
<text transform="translate(41.9 699.6) scale(0.95 1)" font-size="11.2" text-anchor="end" font-weight="bold" fill="#111" stroke="#111" stroke-width="0.15">0.0</text>
<path d="M43.3 676.76H48.3" stroke="#000" stroke-width="1.4"/>
<text transform="translate(41.9 680.46) scale(0.95 1)" font-size="11.2" text-anchor="end" font-weight="bold" fill="#111" stroke="#111" stroke-width="0.15">0.2</text>
<path d="M43.3 657.62H48.3" stroke="#000" stroke-width="1.4"/>
<text transform="translate(41.9 661.32) scale(0.95 1)" font-size="11.2" text-anchor="end" font-weight="bold" fill="#111" stroke="#111" stroke-width="0.15">0.4</text>
<path d="M43.3 638.48H48.3" stroke="#000" stroke-width="1.4"/>
<text transform="translate(41.9 642.18) scale(0.95 1)" font-size="11.2" text-anchor="end" font-weight="bold" fill="#111" stroke="#111" stroke-width="0.15">0.6</text>
<path d="M62.2 567V590.45M62.2 611.28V616.7M57 567H67.4M57 616.7H67.4" stroke="#000" stroke-width="1.35" fill="none"/>
<rect x="52.6" y="590.45" width="19.2" height="20.83" fill="#ffffff" stroke="#000" stroke-width="1.5"/>
<path d="M52.6 610.23H71.8" stroke="#000" stroke-width="1.5"/>
<path d="M91.4 685.47V688.05M91.4 690.92V693.41M86.2 685.47H96.6M86.2 693.41H96.6" stroke="#000" stroke-width="1.35" fill="none"/>
<rect x="81.8" y="688.05" width="19.2" height="2.87" fill="#d6d6d6" stroke="#000" stroke-width="1.5"/>
<path d="M81.8 690.64H101" stroke="#000" stroke-width="1.5"/>
<path d="M121.5 654.27V664.8M121.5 688.72V693.03M116.3 654.27H126.7M116.3 693.03H126.7" stroke="#000" stroke-width="1.35" fill="none"/>
<rect x="111.9" y="664.8" width="19.2" height="23.92" fill="#d6d6d6"/>
<rect x="111.9" y="664.8" width="19.2" height="23.92" fill="url(#hA)" stroke="#000" stroke-width="1.5"/>
<path d="M111.9 674.85H131.1" stroke="#000" stroke-width="1.5"/>
<path d="M150.3 689.2V690.16M150.3 693.99V694.94M145.1 689.2H155.5M145.1 694.94H155.5" stroke="#000" stroke-width="1.35" fill="none"/>
<rect x="140.7" y="690.16" width="19.2" height="3.83" fill="#d6d6d6"/>
<rect x="140.7" y="690.16" width="19.2" height="3.83" fill="url(#hB)" stroke="#000" stroke-width="1.5"/>
<path d="M140.7 692.07H159.9" stroke="#000" stroke-width="1.5"/>
<path d="M179.7 632.74V660.01M179.7 686.33V687.77M174.5 632.74H184.9M174.5 687.77H184.9" stroke="#000" stroke-width="1.35" fill="none"/>
<rect x="170.1" y="660.01" width="19.2" height="26.32" fill="#d6d6d6"/>
<rect x="170.1" y="660.01" width="19.2" height="26.32" fill="url(#hX)" stroke="#000" stroke-width="1.5"/>
<path d="M170.1 683.46H189.3" stroke="#000" stroke-width="1.5"/>
<text x="65.8" y="707.9" font-size="11.2" text-anchor="end" font-weight="bold" fill="#111" transform="rotate(-45 65.8 707.9)" word-spacing="0.5" stroke="#111" stroke-width="0.12">STD</text>
<text x="95" y="707.9" font-size="11.2" text-anchor="end" font-weight="bold" fill="#111" transform="rotate(-45 95 707.9)" word-spacing="0.5" stroke="#111" stroke-width="0.12">HF</text>
<text x="125.1" y="707.9" font-size="11.2" text-anchor="end" font-weight="bold" fill="#111" transform="rotate(-45 125.1 707.9)" word-spacing="0.5" stroke="#111" stroke-width="0.12">HF + FG</text>
<text x="153.9" y="707.9" font-size="11.2" text-anchor="end" font-weight="bold" fill="#111" transform="rotate(-45 153.9 707.9)" word-spacing="0.5" stroke="#111" stroke-width="0.12">HF + <tspan font-style="italic" font-size="10" stroke-width="0.4">ϖ</tspan><tspan dx="-0.7">-3</tspan></text>
<text x="183.3" y="707.9" font-size="11.2" text-anchor="end" font-weight="bold" fill="#111" transform="rotate(-45 183.3 707.9)" word-spacing="0.5" stroke="#111" stroke-width="0.12">HF + FG + <tspan font-style="italic" font-size="10" stroke-width="0.4">ϖ</tspan><tspan dx="-0.7">-3</tspan></text>
<text x="9.6" y="696.25" font-size="11.2" fill="#111" stroke="#111" stroke-width="0.3" font-style="italic" textLength="54" lengthAdjust="spacing" transform="rotate(-90 9.6 696.25)">Prevotella</text>
<text x="9.6" y="642.25" font-size="11.2" fill="#111" stroke="#111" stroke-width="0.15" font-weight="bold" textLength="91" lengthAdjust="spacing" transform="rotate(-90 9.6 642.25)">/Total bacteria (%)</text>
<text x="91" y="680.4" font-size="11.2" text-anchor="middle" font-weight="normal" fill="#2a2a2a"><tspan fill="#6a6a6a">***</tspan></text>
<text x="122" y="648.4" font-size="11.2" text-anchor="middle" font-weight="normal" fill="#2a2a2a"><tspan fill="#6a6a6a">***</tspan><tspan stroke="#2a2a2a" stroke-width="0.25">#</tspan></text>
<text x="150" y="683.4" font-size="11.2" text-anchor="middle" font-weight="normal" fill="#2a2a2a"><tspan fill="#6a6a6a">***</tspan></text>
<text x="181" y="625.7" font-size="11.2" text-anchor="middle" font-weight="normal" fill="#2a2a2a"><tspan fill="#6a6a6a">***</tspan><tspan stroke="#2a2a2a" stroke-width="0.25">#</tspan></text>
</g></svg></body></html>
